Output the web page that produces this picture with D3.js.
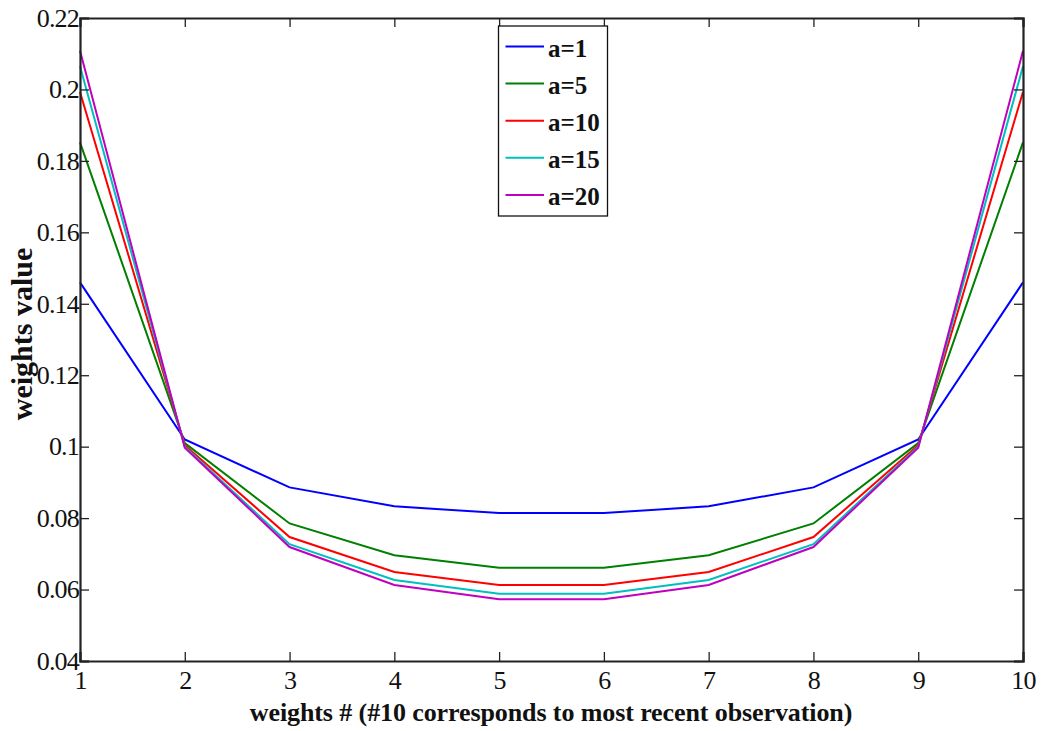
<!DOCTYPE html>
<html><head><meta charset="utf-8">
<script src="https://cdn.jsdelivr.net/npm/d3@7"></script>
<style>body{margin:0;background:#fff}svg{display:block}
svg text{font-family:"Liberation Serif","Times New Roman","DejaVu Serif",serif;}</style>
</head><body><svg id="c" width="1042" height="731"></svg>
<script>
const weightIdx = [1,2,3,4,5,6,7,8,9,10];
const seriesNames = ["a=1","a=5","a=10","a=15","a=20"];
const seriesColors = ["#0000ff","#007f00","#ff0000","#00bfbf","#bf00bf"];
const a1  = [0.146,0.102,0.0886,0.0833,0.0814,0.0814,0.0833,0.0886,0.102,0.146];
const a5  = [0.1852,0.1010,0.0785,0.0696,0.0661,0.0661,0.0696,0.0785,0.1010,0.1852];
const a10 = [0.1993,0.1004,0.0747,0.0649,0.0613,0.0613,0.0649,0.0747,0.1004,0.1993];
const a15 = [0.2065,0.1000,0.0727,0.0627,0.0588,0.0588,0.0627,0.0727,0.1000,0.2065];
const a20 = [0.2108,0.0997,0.0719,0.0613,0.0573,0.0573,0.0613,0.0719,0.0997,0.2108];
const seriesValues = [a1,a5,a10,a15,a20];
const yTicks = [0.04,0.06,0.08,0.1,0.12,0.14,0.16,0.18,0.2,0.22];
const yTickLabels = ["0.04","0.06","0.08","0.1","0.12","0.14","0.16","0.18","0.2","0.22"];
const xLabel = "weights # (#10 corresponds to most recent observation)";
const yLabel = "weights value";

const svg = d3.select("#c");
const L=80, R=1023, T=18, B=661;
const x = d3.scaleLinear().domain([1,10]).range([L,R]);
const y = d3.scaleLinear().domain([0.04,0.22]).range([B,T]);

// lines
const line = d3.line().x((d,i)=>x(weightIdx[i])).y(d=>y(d));
seriesValues.forEach((vals,k)=>{
  svg.append("path").attr("d",line(vals)).attr("fill","none")
    .attr("stroke",seriesColors[k]).attr("stroke-width",2);
});

// axes (inward ticks on all sides)
const tl = 9;
const axB = d3.axisBottom(x).tickValues(weightIdx).tickSize(-tl).tickPadding(10).tickFormat(d3.format("d"));
const axT = d3.axisTop(x).tickValues(weightIdx).tickSize(-tl).tickFormat("");
const axL = d3.axisLeft(y).tickValues(yTicks).tickSize(-tl).tickPadding(1).tickFormat((d,i)=>yTickLabels[i]);
const axR = d3.axisRight(y).tickValues(yTicks).tickSize(-tl).tickFormat("");
function style(g){
  g.attr("font-family",null);
  g.select(".domain").attr("stroke","#222").attr("stroke-width",2.2);
  g.selectAll(".tick line").attr("stroke","#222").attr("stroke-width",1.3);
  g.selectAll("text").attr("font-size",26).attr("fill","#111")
   .style("letter-spacing","-0.8px");
}
svg.append("g").attr("transform",`translate(0,${B})`).call(axB).call(style);
svg.append("g").attr("transform",`translate(0,${T})`).call(axT).call(style);
svg.append("g").attr("transform",`translate(${L},0)`).call(axL).call(style);
svg.append("g").attr("transform",`translate(${R},0)`).call(axR).call(style);

// axis titles
svg.append("text").attr("x",551).attr("y",721).attr("text-anchor","middle")
  .attr("font-weight","bold").attr("font-size",26)
  .style("letter-spacing","-0.1px").attr("fill","#111").text(xLabel);
svg.append("text").attr("transform","translate(32,334) rotate(-90)").attr("text-anchor","middle")
  .attr("font-weight","bold").attr("font-size",30)
  .attr("fill","#111").text(yLabel);

// legend
const lg = svg.append("g");
lg.append("rect").attr("x",498.5).attr("y",26).attr("width",109).attr("height",190)
  .attr("fill","#fff").attr("stroke","#111").attr("stroke-width",1.3);
seriesNames.forEach((n,k)=>{
  const yy = 46.5 + k*37.1;
  lg.append("line").attr("x1",505.5).attr("x2",544).attr("y1",yy).attr("y2",yy)
    .attr("stroke",seriesColors[k]).attr("stroke-width",2);
  lg.append("text").attr("x",548).attr("y",yy+10.5)
    .attr("font-weight","bold").attr("font-size",25)
    .attr("fill","#111").text(n);
});
</script></body></html>
